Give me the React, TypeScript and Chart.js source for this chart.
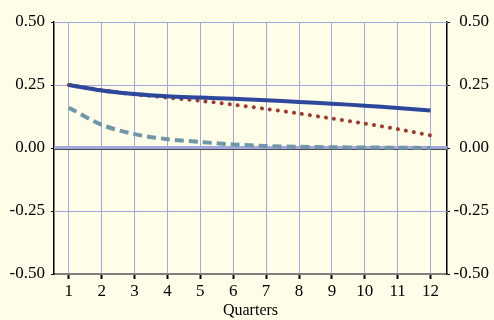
import React, { useEffect, useRef } from "react";
import { Chart, registerables } from "chart.js";

Chart.register(...registerables);

const quarters = [1, 2, 3, 4, 5, 6, 7, 8, 9, 10, 11, 12];
const solidSeries = [0.25, 0.228, 0.214, 0.205, 0.2, 0.195, 0.189, 0.183, 0.176, 0.168, 0.159, 0.149];
const dottedSeries = [0.25, 0.23, 0.213, 0.2, 0.187, 0.172, 0.155, 0.137, 0.117, 0.097, 0.075, 0.05];
const dashedSeries = [0.16, 0.092, 0.055, 0.035, 0.024, 0.014, 0.008, 0.005, 0.003, 0.002, 0.001, 0.0];
const yTicks = [-0.5, -0.25, 0, 0.25, 0.5];

const BG = "#fdfde8";
const GRID = "#a3a6dc";
const FONT = "'Liberation Serif', 'Times New Roman', serif";

const toPoints = (vals: number[]) => vals.map((v, i) => ({ x: quarters[i], y: v }));

const bgPlugin = {
  id: "bg",
  beforeDraw(chart: any) {
    const { ctx, width, height } = chart;
    ctx.save();
    ctx.fillStyle = BG;
    ctx.fillRect(0, 0, width, height);
    ctx.restore();
  },
  beforeDatasetsDraw(chart: any) {
    const { ctx, chartArea, scales } = chart;
    ctx.save();
    yTicks.forEach((v) => {
      const y = Math.round(scales.y.getPixelForValue(v));
      if (v === 0) {
        ctx.fillStyle = GRID;
        ctx.fillRect(chartArea.left, y - 2, chartArea.right - chartArea.left, 3);
        ctx.fillStyle = "#4a4a4a";
        ctx.fillRect(chartArea.left, y + 1, chartArea.right - chartArea.left, 1);
      } else if (v !== -0.5) {
        ctx.fillStyle = GRID;
        ctx.fillRect(chartArea.left, y, chartArea.right - chartArea.left, 1);
      }
    });
    ctx.restore();
  },
};

export default function App() {
  const ref = useRef<HTMLCanvasElement>(null);
  useEffect(() => {
    if (!ref.current) return;
    const chart = new Chart(ref.current, {
      type: "line",
      data: {
        datasets: [
          {
            data: toPoints(dashedSeries),
            borderColor: "#6f97a8",
            borderWidth: 4,
            borderDash: [9, 5],
            pointRadius: 0,
            tension: 0.3,
            fill: false,
          },
          {
            data: toPoints(solidSeries),
            borderColor: "#2d479b",
            borderWidth: 4,
            pointRadius: 0,
            tension: 0.3,
            fill: false,
          },
          {
            data: toPoints(dottedSeries),
            borderColor: "#a13a2e",
            borderWidth: 4,
            borderDash: [0.1, 8],
            borderCapStyle: "round",
            pointRadius: 0,
            tension: 0.3,
            fill: false,
          },
        ],
      },
      options: {
        animation: false,
        responsive: false,
        maintainAspectRatio: false,
        layout: { padding: { top: 22, right: 5, left: 0, bottom: 0 } },
        plugins: { legend: { display: false }, tooltip: { enabled: false } },
        scales: {
          x: {
            type: "linear",
            min: 0.55,
            max: 12.5,
            afterBuildTicks: (s: any) => {
              s.ticks = quarters.map((q) => ({ value: q }));
            },
            afterFit: (s: any) => {
              s.height = 46;
            },
            grid: {
              color: GRID,
              lineWidth: 1,
              tickColor: "#000",
              tickLength: 5,
              tickWidth: 2,
            },
            border: { color: "#808080", width: 2 },
            ticks: {
              color: "#000",
              font: { family: FONT, size: 17 },
              padding: 2,
              maxRotation: 0,
              autoSkip: false,
              callback: (v: any) => String(v),
            },
            title: {
              display: true,
              text: "Quarters",
              color: "#000",
              font: { family: FONT, size: 16 },
              padding: { top: -2, bottom: 0 },
            },
          },
          y: {
            position: "left",
            min: -0.5,
            max: 0.5,
            afterBuildTicks: (s: any) => {
              s.ticks = yTicks.map((v) => ({ value: v }));
            },
            afterFit: (s: any) => {
              s.width = 54;
            },
            grid: {
              drawOnChartArea: false,
              tickColor: "#000",
              tickLength: 3,
            },
            border: { color: "#000", width: 1.5 },
            ticks: {
              color: "#000",
              font: { family: FONT, size: 17 },
              padding: 6,
              callback: (v: any) => Number(v).toFixed(2),
            },
          },
          y2: {
            position: "right",
            min: -0.5,
            max: 0.5,
            afterBuildTicks: (s: any) => {
              s.ticks = yTicks.map((v) => ({ value: v }));
            },
            afterFit: (s: any) => {
              s.width = 42;
            },
            grid: {
              drawOnChartArea: false,
              tickColor: "#000",
              tickLength: 3,
            },
            border: { color: "#000", width: 1.5 },
            ticks: {
              color: "#000",
              font: { family: FONT, size: 17 },
              padding: 3,
              crossAlign: "far",
              callback: (v: any) => Number(v).toFixed(2),
            },
          },
        },
      },
      plugins: [bgPlugin],
    } as any);
    return () => chart.destroy();
  }, []);
  return (
    <div style={{ position: "fixed", left: 0, top: 0, width: 494, height: 320, background: BG }}>
      <canvas ref={ref} width={494} height={320} style={{ display: "block" }} />
    </div>
  );
}
